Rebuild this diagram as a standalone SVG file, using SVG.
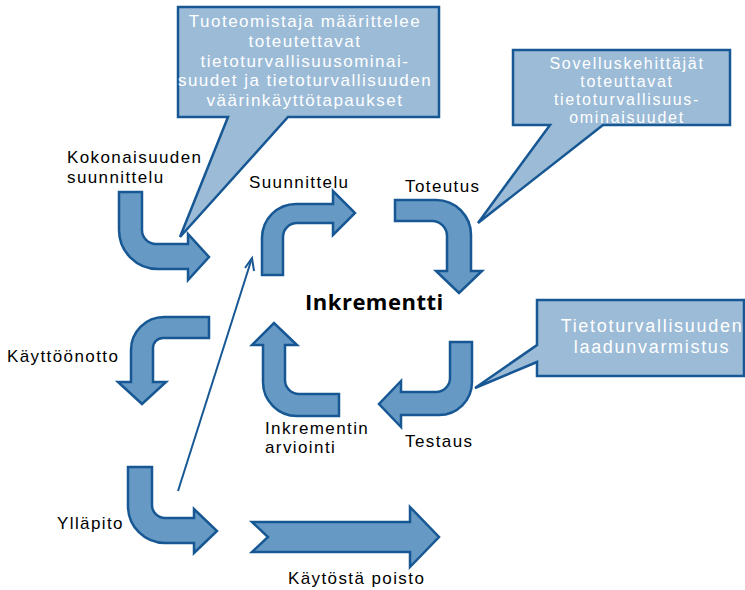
<svg xmlns="http://www.w3.org/2000/svg" width="745" height="590" viewBox="0 0 745 590">
<style>
.arr{fill:#6699c3;stroke:#175894;stroke-width:2.5;stroke-linejoin:miter}
.call{fill:#9bbbd7;stroke:#175894;stroke-width:2.5;stroke-linejoin:miter}
.ct{font-family:"Liberation Sans",Arial,sans-serif;font-size:17px;letter-spacing:1.5px;fill:#ffffff;text-anchor:middle}
.ct2{font-family:"Liberation Sans",Arial,sans-serif;font-size:16px;letter-spacing:1.7px;fill:#ffffff;text-anchor:middle}
.ct3{font-family:"Liberation Sans",Arial,sans-serif;font-size:18px;letter-spacing:1.7px;fill:#ffffff;text-anchor:middle}
.lb{font-family:"Liberation Sans",Arial,sans-serif;font-size:17px;letter-spacing:1.4px;fill:#000000}
.big{font-family:"Open Sans","Liberation Sans",sans-serif;font-size:22px;font-weight:bold;letter-spacing:0.5px;fill:#000000}
.ln{fill:none;stroke:#175894;stroke-width:2}
</style>
<rect width="745" height="590" fill="#ffffff"/>
<g id="connectors">
<line class="ln" x1="178" y1="491" x2="251" y2="261"/>
<path class="ln" d="M245,268 L252,258 L254,271"/>
</g>
<g id="kokonaisuuden-suunnittelu">
<path class="arr" d="M119,192 H142 V230 A14,14 0 0 0 156,244 H188 V234 L209,257 L188,280 V269 H158 A39,39 0 0 1 119,230 Z"/>
<text class="lb" x="67" y="163">Kokonaisuuden</text>
<text class="lb" x="67" y="183">suunnittelu</text>
</g>
<g id="kayttoonotto">
<path class="arr" d="M209,317 V338 H163 A10,10 0 0 0 153,348 V382 H166 L142,404 L118,382 H131 V350 A33,33 0 0 1 164,317 Z"/>
<text class="lb" x="7" y="362">Käyttöönotto</text>
</g>
<g id="yllapito">
<path class="arr" d="M128,467 H152 V505 A13,13 0 0 0 165,518 H194 V509 L217,531 L194,553 V543 H165 A37,37 0 0 1 128,506 Z"/>
<text class="lb" x="57" y="529">Ylläpito</text>
</g>
<g id="kaytosta-poisto">
<path class="arr" d="M252,522 H410 V507 L439,537 L410,567 V552 H252 L268,537 Z"/>
<text class="lb" x="288" y="584">Käytöstä poisto</text>
</g>
<g id="suunnittelu">
<path class="arr" d="M262,275 V238 A34,34 0 0 1 296,204 H333 V191 L355,213 L333,235 V223 H297 A14,14 0 0 0 283,237 V275 Z"/>
<text class="lb" x="249" y="188">Suunnittelu</text>
</g>
<g id="toteutus">
<path class="arr" d="M395,200 H436 A35,35 0 0 1 471,235 V271 H482 L459,293 L436,271 H447 V236 A15,15 0 0 0 432,221 H395 Z"/>
<text class="lb" x="405" y="192">Toteutus</text>
</g>
<g id="testaus">
<path class="arr" d="M450,342 H472 V382 A33,33 0 0 1 439,415 H401 V427 L379,404 L401,381 V392 H436 A14,14 0 0 0 450,378 Z"/>
<text class="lb" x="405" y="447">Testaus</text>
</g>
<g id="inkrementin-arviointi">
<path class="arr" d="M339,394 V416 H297 A34,34 0 0 1 263,382 V345 H252 L274,323 L297,345 H285 V380 A14,14 0 0 0 299,394 Z"/>
<text class="lb" x="265" y="434">Inkrementin</text>
<text class="lb" x="265" y="453">arviointi</text>
</g>
<g id="inkrementti">
<text class="big" x="305" y="310">Inkrementti</text>
</g>
<g id="callout-tuoteomistaja">
<path class="call" d="M178,7 H439 V117 H288 L180,237 L228,117 H178 Z"/>
<text class="ct" x="305" y="27">Tuoteomistaja määrittelee</text>
<text class="ct" x="305" y="47">toteutettavat</text>
<text class="ct" x="305" y="67">tietoturvallisuusominai-</text>
<text class="ct" x="305" y="86">suudet ja tietoturvallisuuden</text>
<text class="ct" x="305" y="106">väärinkäyttötapaukset</text>
</g>
<g id="callout-sovelluskehittajat">
<path class="call" d="M513,50 H730 V125 H603 L478,223 L550,125 H513 Z"/>
<text class="ct2" x="627" y="69">Sovelluskehittäjät</text>
<text class="ct2" x="627" y="87">toteuttavat</text>
<text class="ct2" x="627" y="105">tietoturvallisuus-</text>
<text class="ct2" x="627" y="123">ominaisuudet</text>
</g>
<g id="callout-laadunvarmistus">
<path class="call" d="M537,300 H744 V376 H537 V362 L475,388 L537,345 Z"/>
<text class="ct3" x="652" y="332">Tietoturvallisuuden</text>
<text class="ct3" x="652" y="353">laadunvarmistus</text>
</g>
</svg>
